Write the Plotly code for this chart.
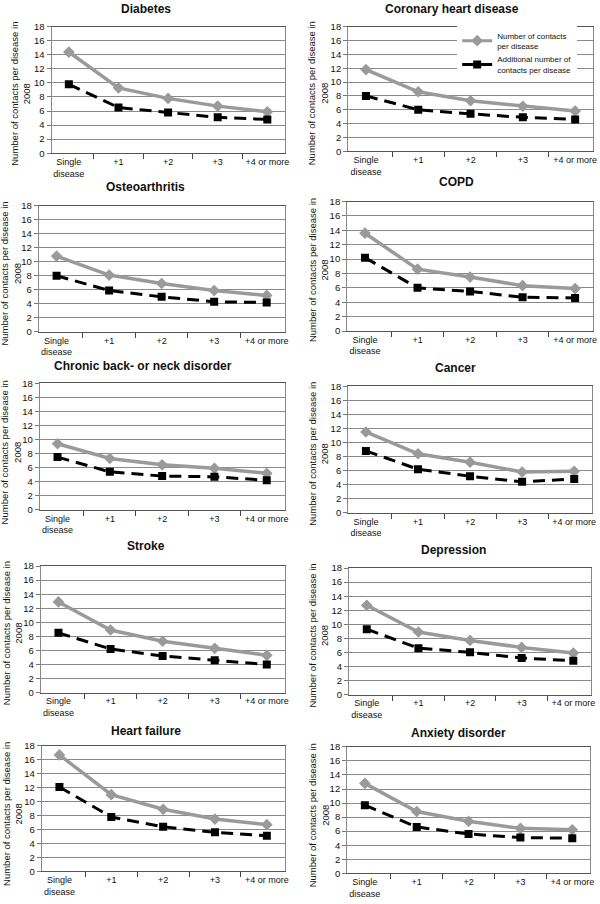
import plotly.graph_objects as go

categories = ["Single<br>disease", "+1", "+2", "+3", "+4 or more"]
y_ticks = [0, 2, 4, 6, 8, 10, 12, 14, 16, 18]

diseases = ["Diabetes", "Coronary heart disease", "Osteoarthritis", "COPD",
            "Chronic back- or neck disorder", "Cancer", "Stroke", "Depression",
            "Heart failure", "Anxiety disorder"]

contacts_diabetes = [14.4, 9.3, 7.8, 6.7, 5.9]
additional_diabetes = [9.8, 6.5, 5.8, 5.1, 4.8]
contacts_chd = [11.8, 8.6, 7.3, 6.5, 5.8]
additional_chd = [8.0, 6.0, 5.4, 4.9, 4.6]
contacts_oa = [10.8, 8.1, 6.9, 5.9, 5.2]
additional_oa = [8.0, 5.9, 5.0, 4.3, 4.2]
contacts_copd = [13.6, 8.6, 7.5, 6.3, 5.9]
additional_copd = [10.2, 6.0, 5.5, 4.7, 4.6]
contacts_back = [9.4, 7.3, 6.4, 5.9, 5.2]
additional_back = [7.5, 5.4, 4.8, 4.7, 4.2]
contacts_cancer = [11.5, 8.4, 7.2, 5.8, 5.9]
additional_cancer = [8.8, 6.2, 5.2, 4.4, 4.8]
contacts_stroke = [12.9, 8.9, 7.3, 6.3, 5.3]
additional_stroke = [8.5, 6.2, 5.2, 4.6, 4.0]
contacts_depr = [12.7, 8.9, 7.7, 6.7, 5.9]
additional_depr = [9.3, 6.6, 6.0, 5.2, 4.8]
contacts_hf = [16.7, 11.0, 8.9, 7.5, 6.7]
additional_hf = [12.1, 7.8, 6.4, 5.6, 5.1]
contacts_anx = [12.8, 8.8, 7.4, 6.4, 6.2]
additional_anx = [9.7, 6.6, 5.6, 5.1, 5.0]

contacts = [contacts_diabetes, contacts_chd, contacts_oa, contacts_copd, contacts_back,
            contacts_cancer, contacts_stroke, contacts_depr, contacts_hf, contacts_anx]
additional = [additional_diabetes, additional_chd, additional_oa, additional_copd, additional_back,
              additional_cancer, additional_stroke, additional_depr, additional_hf, additional_anx]

series_names = ["Number of contacts<br>per disease", "Additional number of<br>contacts per disease"]
y_title = "Number of contacts per disease in<br>2008"

W, H = 600, 904
# plot areas in pixels: (left, right, top, bottom)
boxes = [(52, 287, 21, 149), (351, 598, 21, 147),
         (39, 287, 202, 330), (350, 598, 198, 329),
         (40, 287, 382, 510), (351, 597, 385, 513),
         (41, 287, 567, 695), (352, 596, 569, 697),
         (42, 287, 749, 876), (350, 595, 750, 878)]
title_pos = [(147, 3), (456, 3), (147, 183), (460, 178), (144, 364),
             (459, 366), (147, 547), (457, 551), (147, 734), (462, 736)]
ytitle_pos = [(21, 89), (321, 88), (11, 271), (321, 267), (11, 452),
              (321, 453), (12, 635), (321, 637), (12, 818), (321, 819)]

FONT = "Arial, Liberation Sans, sans-serif"
GRAY = "#9a9a9a"

fig = go.Figure()
layout = dict(width=W, height=H, margin=dict(l=0, r=0, t=0, b=0),
              paper_bgcolor="white", plot_bgcolor="white",
              font=dict(family=FONT, size=9, color="#111"),
              showlegend=True)
annotations = []

for i, name in enumerate(diseases):
    l, r, t, b = boxes[i]
    sfx = "" if i == 0 else str(i + 1)
    layout["xaxis" + sfx] = dict(
        domain=[l / W, r / W], anchor="y" + sfx, type="category",
        tickson="boundaries", ticks="outside", ticklen=5, tickcolor="#444",
        showline=True, linecolor="#555", linewidth=1, mirror=True,
        showgrid=False, zeroline=False, tickfont=dict(size=9, color="#111"),
        fixedrange=True)
    layout["yaxis" + sfx] = dict(
        domain=[1 - b / H, 1 - t / H], anchor="x" + sfx, range=[0, 18],
        tickvals=y_ticks, ticks="outside", ticklen=4, tickcolor="#777",
        showline=True, linecolor="#888", linewidth=1, mirror=True,
        showgrid=True, gridcolor="#8a8a8a", gridwidth=1, zeroline=False,
        tickfont=dict(size=9.5, color="#111"), fixedrange=True)
    fig.add_trace(go.Scatter(
        x=categories, y=contacts[i], mode="lines+markers",
        line=dict(color=GRAY, width=3.5),
        marker=dict(symbol="diamond", size=9, color=GRAY),
        name=series_names[0], showlegend=False,
        xaxis="x" + sfx, yaxis="y" + sfx))
    fig.add_trace(go.Scatter(
        x=categories, y=additional[i], mode="lines+markers",
        line=dict(color="black", width=3, dash="12px,7px"),
        marker=dict(symbol="square", size=8, color="black"),
        name=series_names[1], showlegend=False,
        xaxis="x" + sfx, yaxis="y" + sfx))
    tx, ty = title_pos[i]
    annotations.append(dict(text="<b>" + name + "</b>", x=tx / W, y=1 - ty / H,
                            xref="paper", yref="paper", xanchor="center", yanchor="middle",
                            showarrow=False, font=dict(size=12, color="#111")))
    ax_, ay_ = ytitle_pos[i]
    annotations.append(dict(text=y_title, x=ax_ / W, y=1 - ay_ / H, textangle=-90,
                            xref="paper", yref="paper", xanchor="center", yanchor="middle",
                            showarrow=False, font=dict(size=9.5, color="#111")))

# legend entries (legend-only traces with solid sample lines)
fig.add_trace(go.Scatter(x=[None], y=[None], mode="lines+markers", name=series_names[0],
                         line=dict(color=GRAY, width=3),
                         marker=dict(symbol="diamond", size=9, color=GRAY),
                         xaxis="x2", yaxis="y2"))
fig.add_trace(go.Scatter(x=[None], y=[None], mode="lines+markers", name=series_names[1],
                         line=dict(color="black", width=3),
                         marker=dict(symbol="square", size=8, color="black"),
                         xaxis="x2", yaxis="y2"))

layout["annotations"] = annotations
layout["legend"] = dict(x=461 / W, y=1 - 18 / H, xanchor="left", yanchor="top",
                        bgcolor="white", borderwidth=0, font=dict(size=8, color="#111"),
                        itemwidth=30, tracegroupgap=0)
fig.update_layout(**layout)
fig.write_html("out.html", config={"displayModeBar": False, "staticPlot": True},
               post_script="document.body.style.margin='0';document.body.style.overflow='hidden';")
